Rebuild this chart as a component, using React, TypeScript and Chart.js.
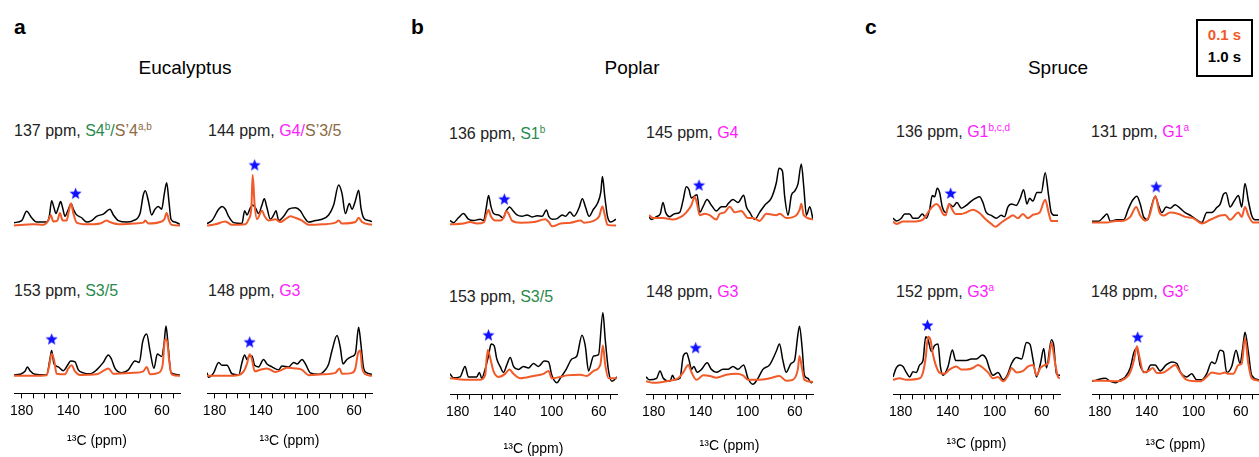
import React, { useEffect, useRef } from "react";
import { Chart, registerables } from "chart.js";
Chart.register(...registerables);

type Pt = [number, number];

// ---------- axis ----------
const X_MIN = 44.5;
const X_MAX = 186.5;
const MINOR_TICKS = [180, 170, 160, 150, 140, 130, 120, 110, 100, 90, 80, 70, 60, 50];
const LABELED_TICKS = [180, 140, 100, 60];
const X_TITLE = "¹³C (ppm)";

// ---------- Eucalyptus (ppm, intensity) ----------
const EUC137_S: Pt[] = [[186.5,3.3],[179.9,5.7],[175.7,16.7],[171.4,9],[167.1,4],[158.6,4],[156.3,10.7],[154.3,29],[152.3,20.7],[150.6,14],[148.6,20.7],[146.6,28],[144.9,20.7],[142.9,10.7],[140,19],[137.7,25.7],[135.7,19],[133.5,13.3],[128.6,9],[124.3,4],[120.1,5.7],[115.8,10.7],[110.1,13.3],[104.4,19],[101.5,12.3],[97.3,5.7],[90.1,4],[84.4,5.7],[78.7,14],[75.9,35.7],[74.2,40.7],[71.6,29],[68.8,12.3],[65.9,19],[63.1,22.3],[60.2,19],[57.9,37.3],[55.9,50],[53.9,27.3],[52.2,7.3],[48.8,4],[44.5,1.3]];
const EUC137_F: Pt[] = [[186.5,0],[170,1.3],[161.4,0.7],[157.1,5.7],[155.1,12.3],[152.9,4.7],[149.4,5.7],[147.2,14.7],[144.9,5.7],[141.5,5.7],[139.5,17.3],[137.7,25.7],[135.7,14],[132.9,3.3],[124.3,1.3],[112.9,2.3],[107.2,5.7],[104.4,4],[95.8,1.3],[84.4,2.3],[75.9,3.3],[74.2,5.7],[71.6,2.3],[61.7,4],[57.9,7.3],[55.9,14.7],[53.9,5.7],[51.6,0.7],[44.5,0]];

const EUC144_S: Pt[] = [[186.5,2.3],[182.2,5.7],[176.5,19],[173.6,22.3],[170.7,19],[167.9,10.7],[163.5,3.3],[156.4,2.3],[154.1,17.3],[152.1,12.3],[149.2,20.7],[147.2,24],[144.9,20.7],[142.1,14],[139.2,24],[137.2,31.3],[134.9,20.7],[132,7.3],[129.1,12.3],[127.1,17.3],[124.8,5.7],[120.5,10.7],[116.2,19],[110.5,20.7],[106.2,17.3],[103.3,10.7],[99,4],[93.3,5.7],[87.5,7.3],[81.8,12.3],[77.5,24],[73.2,47.3],[70.3,37.3],[67.4,14],[64,25.7],[61.7,19],[58.8,29],[56,41.3],[54,20.7],[51.7,9],[47.4,5.7],[44.5,4.7]];
const EUC144_F: Pt[] = [[186.5,0],[179.3,1.3],[170.7,4.7],[165,0.7],[153.5,1.3],[150.6,7.3],[148.3,20.7],[147.2,59],[145.5,24],[143.5,7.3],[139.2,17.3],[136.9,10.7],[133.4,5.7],[127.7,7.3],[123.4,4],[119.1,7.3],[114.8,10.7],[110.5,9],[104.7,5.7],[99,0.7],[87.5,1.3],[76,3.3],[73.2,5.7],[70.3,2.3],[58.8,4],[56,9],[53.1,4],[44.5,0.7]];

const EUC153_S: Pt[] = [[186.5,1],[181.4,1.7],[177.1,5],[175.1,10],[172.8,5.7],[168.6,1.7],[158.6,1],[155.8,18.3],[154.3,28.3],[152.3,13.3],[148.6,10],[144.3,5.7],[140,13.3],[138,16.7],[134.3,15.7],[131.5,6.7],[127.2,3.3],[121.5,2.3],[115.8,6.7],[110.1,15],[105.8,23.3],[103,18.3],[100.1,8.3],[94.4,3.3],[88.7,6.7],[83,16.7],[79.3,15],[76.4,38.3],[73,46.7],[70.2,28.3],[66.8,8.3],[63.9,24.3],[60.2,21.7],[58.2,35],[56.5,55.7],[54.5,31.7],[52.2,3.3],[44.5,1]];
const EUC153_F: Pt[] = [[186.5,0],[170,0],[158.6,0.7],[156.3,11.7],[154.3,24.7],[152.3,18.3],[150,2.3],[142.9,1.7],[140,8.3],[137.2,11.7],[134.3,5],[130.1,1],[115.8,1.7],[108.7,6.7],[105.8,8.3],[101.5,2.3],[84.4,3.3],[75.9,5],[73,10],[70.2,1.7],[63.1,3.3],[59.4,11.7],[57.4,40],[55.9,41],[53.6,15],[51.6,1.7],[44.5,0]];

const EUC148_S: Pt[] = [[186.5,3.3],[185.1,-1.7],[180.8,3.3],[176.5,15],[173.6,11.7],[169.3,11.7],[165,2.3],[159.2,1],[156.4,15],[154.1,23.3],[152.1,18.3],[150.1,22.3],[147.8,22.3],[145.5,11.7],[142.1,10],[137.8,18.3],[134.9,13.3],[130.6,10],[124.8,6.7],[122,11],[116.2,10],[111.9,15],[109,13.3],[104.7,18.3],[101.8,13.3],[97.6,3.3],[90.4,1.7],[84.6,6.7],[81.8,13.3],[78.9,28.3],[74.6,45],[71.8,31.7],[69.5,13.3],[66.1,18.3],[61.7,21.7],[58.8,25],[56,54.3],[54,35],[51.7,8.3],[48.9,3.3],[44.5,1.7]];
const EUC148_F: Pt[] = [[186.5,0],[170.7,0],[159.2,1],[154.9,5],[152.1,13.3],[149.8,24],[147.8,18.3],[145.5,5],[140.6,6.7],[134.9,8.3],[127.7,4.3],[122,6.7],[117.7,9],[110.5,8.3],[104.7,6.7],[99,0.7],[87.5,1.7],[76,3.3],[72.5,8.3],[70.3,2.3],[61.7,3.3],[58.8,8.3],[56.6,25],[54.6,28.3],[53.1,10],[50.2,1.7],[44.5,0]];

// ---------- Poplar ----------
const POP136_S: Pt[] = [[186.5,5.7],[183.6,3.3],[179.3,9],[175,14],[170.7,7.3],[166.4,5.7],[160.6,7.3],[157.8,5.7],[155.5,20.7],[153.5,35],[151.5,22.3],[149.2,14],[144.9,12.3],[141.2,9],[138.3,17.3],[135.5,21.7],[132.6,17.3],[129.2,12.3],[124.9,10.7],[120.6,12.3],[116.3,10],[112,11.3],[107.7,10.7],[104,18],[102,10.7],[99.1,7.3],[94.8,8],[90.5,12.3],[87.6,10.7],[83.9,15.7],[80.5,10.7],[76.1,20.7],[73.3,31.3],[70.4,20.7],[67.5,10.7],[63.8,19],[60.4,25.7],[57.5,39],[56.1,57.3],[54.1,34],[51.8,10.7],[49,4],[44.5,7.3]];
const POP136_F: Pt[] = [[186.5,1.3],[175,2.3],[169.3,4],[163.5,2.3],[157.2,4],[155.5,12.3],[153.5,18],[151.5,10.7],[147.8,5.7],[143.5,5.7],[140.6,9],[138.3,16.7],[136.4,14],[133.5,5.7],[126.3,3.3],[114.9,4],[104.9,7.3],[102,4],[99.1,-1],[91.9,2.3],[83.3,3.3],[74.7,5.7],[71.9,3.3],[63.2,5.7],[58.9,10.7],[56.1,22.3],[54.1,12.3],[51.8,0.7],[44.5,0]];

const POP145_S: Pt[] = [[186.5,3.3],[184.5,0],[180.1,3.3],[176.7,6.7],[174.4,20],[172.1,8.3],[168.6,3.3],[164.3,6.7],[159.9,8.3],[157.1,21.7],[154.2,38.3],[151.9,35],[149.8,25],[146.9,27.7],[144.9,29],[142.6,8.3],[139.7,15],[136.2,23.3],[132.5,16.7],[128.1,10],[123.8,15],[120.1,15],[118.1,18.3],[113.8,23.3],[109.4,20],[104.5,28.3],[102.2,15],[99.3,8.3],[95,0],[90.7,8.3],[86.3,16.7],[80.6,25],[76.2,43.3],[73.9,60],[71,56.7],[69,26.7],[66.1,5],[63.2,28.3],[60.3,33.3],[57.5,41.7],[54.6,65],[52.5,38.3],[50.2,5],[47.3,15],[44.5,0]];
const POP145_F: Pt[] = [[186.5,5],[183,1.7],[174.4,1.7],[165.7,0],[158.5,3.3],[154.2,8.3],[149.8,16.7],[146.9,26.7],[144.9,18.3],[142.6,5],[138.3,6.7],[134,5],[128.1,0],[125.3,6.7],[121,8.3],[116.6,15],[112.3,8.3],[106.6,10],[100.8,1.7],[96.4,1.7],[90.7,-1.7],[84.9,6.7],[76.2,5],[73.3,6.7],[67.6,1.7],[58.9,5],[56,11.7],[54.6,18.3],[52.5,5],[44.5,0]];

const POP153_S: Pt[] = [[186.5,6.7],[183.7,2.3],[178,3.3],[173.7,15],[170.9,3.3],[163.8,3.3],[161.5,8.3],[159.5,1.7],[156.7,11.7],[153.8,26.7],[151.5,40],[149,38.3],[146.7,23.3],[143.9,15],[141,8.3],[138.2,16.7],[135.3,25],[132.5,15],[128.2,11.7],[124,15],[119.8,13.3],[115.5,18.3],[111.3,15],[106.4,21],[102.7,20],[99.9,5],[95.6,-3.3],[92.8,1.7],[87.7,11.7],[82.9,23.3],[78.6,26.7],[74.3,50],[71.5,38.3],[68.7,10],[64.4,26.7],[60.2,28.3],[56.5,75],[54.5,45],[51.7,10],[48.8,-1.7],[44.5,3.3]];
const POP153_F: Pt[] = [[186.5,1.7],[169.5,0],[161,0],[156.7,5],[154.4,33.3],[152.4,25],[149.6,10],[145.3,3.3],[139.6,6.7],[135.9,11.7],[132.5,6.7],[126.8,1.7],[115.5,4.3],[107,6.7],[102.7,10],[99.9,1.7],[92.8,3.3],[87.1,5],[75.7,5.7],[70.1,4.3],[64.4,10],[58.7,16.7],[56.5,38.3],[54.5,16.7],[51.7,1.7],[44.5,1.7]];

const POP148_S: Pt[] = [[186.5,5.7],[183.7,2.3],[177.5,4],[174.6,12.3],[171.8,4],[166.1,0.7],[163.9,7.3],[161.9,2.3],[157.6,4],[154.8,29],[152,32.3],[149.8,24],[147.8,14],[145.8,17.3],[143,10.7],[139.3,14],[134.5,21.3],[130.9,14],[126.7,10.7],[121,14],[116.8,14],[112.5,17.3],[108.3,14],[103.5,19],[99.8,4],[95.6,-2.7],[91.3,4],[87.1,14],[81.4,19],[75.8,34],[73,42.3],[70.1,24],[67.3,10.7],[63.1,20.7],[60.2,24],[57.4,52.3],[56,62.3],[53.7,37.3],[51.8,7.3],[48.9,4],[46.1,-1],[44.5,0.7]];
const POP148_F: Pt[] = [[186.5,0.7],[180.3,-1],[169,0.7],[159.1,4],[154.8,10.7],[150.6,19],[147.8,10.7],[143.6,2.3],[137.9,7.3],[132.3,6.7],[126.7,4.7],[118.2,8],[109.7,9],[104.1,7.3],[99.8,2.3],[89.9,2.3],[81.4,4],[73,6.7],[67.3,1.3],[61.7,2.3],[57.4,14],[56,29],[53.7,14],[51.8,2.3],[44.5,0]];

// ---------- Spruce ----------
const SPR136_S: Pt[] = [[186.5,5],[183.6,1.7],[179.3,5],[176.5,10],[172.2,10],[169.3,5],[165,5],[161.3,10],[157.8,5],[155,15],[152.7,31.7],[150.7,30],[148.4,40],[146.4,35],[144.1,18.3],[141.2,11.7],[137.8,21.7],[134.9,18.3],[131.5,23.3],[127.7,16.7],[123.4,20],[119.1,25],[115.4,28.3],[112,30],[109.1,23.3],[106.3,11.7],[101.9,8.3],[97.6,5],[93.3,8.3],[90.5,6.7],[87.6,18.3],[84.7,21.7],[80.4,20],[77,28.3],[74.1,38.3],[71.2,21.7],[68.9,28.3],[66.1,25],[62.6,35],[58.9,35],[55.5,58.3],[52.6,31.7],[50.3,11.7],[47.4,8.3],[44.5,8.3]];
const SPR136_F: Pt[] = [[186.5,1],[183.6,-1.7],[177.9,1],[169.3,1],[160.7,3.3],[156.4,11.7],[152.7,18.3],[149.2,21.7],[146.4,18.3],[143.5,10],[141.2,8.3],[138.4,21.7],[135.5,15],[132.7,10],[127.7,10],[123.4,11.7],[117.7,15],[112,11],[107.7,5],[101.9,-1.7],[98.2,-5],[93.3,0],[87.6,5],[83.3,8.3],[79,5],[74.7,10],[70.4,5],[66.1,9],[60.3,11.7],[55.5,26.7],[52.6,11.7],[50.3,1.7],[44.5,1.7]];

const SPR131_S: Pt[] = [[186.5,2.7],[180.8,2.7],[176.6,7.7],[173.8,11],[170.9,2.7],[165.3,4.3],[159.6,4.3],[155.4,17.7],[151.7,27.7],[148.3,32],[145.5,22.7],[142.6,7.7],[139.2,4.3],[136.4,17.7],[132.7,32],[129.9,21],[127.1,12.7],[123.4,19.3],[120,17.7],[115.8,22],[111.5,17.7],[107.3,12.7],[102.5,9.3],[97.4,4.3],[93.1,1],[88.9,12.7],[84.6,12.7],[80.4,18.7],[77.5,22.7],[74.7,34.3],[72.5,36],[69.1,19.3],[65.7,26],[62,32.7],[59.2,19.3],[56.4,46.7],[53.5,26],[50.7,9.3],[47.9,4.3],[44.5,4.3]];
const SPR131_F: Pt[] = [[186.5,1],[173.8,1],[168.1,2.7],[159.6,3.3],[154,7.7],[148.9,19.3],[145.5,9.3],[141.3,3.3],[137.6,9.3],[132.7,32],[129,12.7],[125.7,9.3],[120,12.7],[112.9,11],[107.3,7.7],[100.2,6],[93.1,0],[86,4.3],[77.5,9.3],[73.2,10],[69.1,4.3],[62,12.7],[59.2,7.7],[56.4,19.3],[53.5,9.3],[49.3,1],[44.5,1]];

const SPR152_S: Pt[] = [[186.5,3.3],[183.7,13.3],[180.8,16.7],[178,15],[175.2,8.3],[172.3,3.3],[169.5,9],[166.7,8.3],[163.8,16.7],[161,21.7],[158.7,48.3],[156.7,45],[153.9,31.7],[151.1,38.3],[148.2,40],[146.2,15],[144,5],[139.7,15],[136,33.3],[133.2,21.7],[128.4,21.7],[124.1,21.7],[119.9,23.3],[115.6,23.3],[110.5,27.7],[107.1,23.3],[104.3,11.7],[101.5,5],[97.2,8.3],[92.8,0],[89.4,5],[85.7,18.3],[81.5,25],[77.2,23.3],[73,41.7],[70.1,40],[67.3,21.7],[64.5,3.3],[61.1,18.3],[58.3,35],[56,13.3],[51.8,45],[49.8,38.3],[47.5,6.7],[44.5,5]];
const SPR152_F: Pt[] = [[186.5,0],[180.8,1.7],[175.2,0],[163.8,1.7],[161,8.3],[158.7,25],[156.7,48.3],[154.7,45],[152.5,28.3],[150.2,16.7],[146.8,7.7],[142.6,6.7],[138.3,11.7],[132.7,15],[128.4,11.7],[124.1,11.7],[118.5,13.3],[114.2,16.7],[109.9,13.3],[105.7,8.3],[101.4,1.7],[97.2,3.3],[92.8,-1.7],[88.6,5],[85.7,13.3],[81.5,8.3],[75.8,10],[71.6,15],[67.3,16.7],[64.5,5],[61.1,13.3],[57.4,16.7],[54.6,18.3],[51.8,41.7],[49,21.7],[46.2,3.3],[44.5,1.7]];

const SPR148_S: Pt[] = [[186.5,-0.7],[182.3,1],[175.2,2.7],[170.9,-0.7],[166.7,-2.3],[162.5,1],[158.2,4.3],[154,14.3],[150.6,32.7],[148.3,36],[145.5,16.7],[140.4,9.3],[136.5,17.7],[132.8,17.7],[128.6,11],[123.5,17.7],[118.7,21],[114.4,19.3],[111.1,9.3],[106,4.3],[101.7,7.7],[97.5,1],[93.2,1],[89,7.7],[84.7,21],[81.9,19.3],[77.6,34.3],[74.8,32.7],[72,9.3],[67.7,16],[64,34.3],[60.6,19.3],[58.4,36],[56.4,54.3],[53.6,32.7],[50.7,6],[44.5,1]];
const SPR148_F: Pt[] = [[186.5,0],[176.6,0],[165.3,-0.7],[158.2,2.7],[154,9.3],[150.6,24.3],[148.3,38.7],[146.1,26],[142.7,9.3],[138.4,11],[134.8,14.3],[131.4,8.7],[125.7,9.3],[120,14.3],[115.8,17.7],[111.5,9.3],[105.9,1],[94.6,-0.7],[89,4.3],[84.7,9.3],[77.6,7.7],[73.4,9.3],[70.6,7.7],[66.3,7.7],[62,17.7],[59.2,19.3],[56.4,47.7],[53.6,19.3],[50.7,2.7],[44.5,0]];

// ---------- stars (ppm, height) ----------
const STAR_EUC137: Pt = [133.8, 37.3];
const STAR_EUC144: Pt = [145.5, 70.7];
const STAR_EUC153: Pt = [154.3, 41];
const STAR_EUC148: Pt = [149.8, 37.7];
const STAR_POP136: Pt = [140, 30.7];
const STAR_POP145: Pt = [143.2, 40];
const STAR_POP153: Pt = [153.8, 50];
const STAR_POP148: Pt = [144.3, 38];
const STAR_SPR136: Pt = [136.9, 34];
const STAR_SPR131: Pt = [131.9, 42.7];
const STAR_SPR152: Pt = [157.2, 61];
const STAR_SPR148: Pt = [147.7, 48.7];

// ---------- styles ----------
const FONT = '"Liberation Sans", Arial, Helvetica, sans-serif';
const ORANGE = "#f15a29";
const GREEN = "#2a8a4e";
const BROWN = "#8c6a42";
const MAGENTA = "#ff1aff";
const BLUE = "#1010ff";

type Seg = { t: string; c?: string; sup?: boolean };

type PanelDef = {
  key: string;
  left: number;
  width: number;
  base: number;
  bottom: boolean;
  fast: Pt[];
  slow: Pt[];
  star: Pt;
  title: Seg[];
  tx: number;
  ty: number;
  titlePad?: number;
};

const AXIS_Y = 398;
const ABOVE = 86;
const PAD = 16;
const TICK_FONT = 14;

const PANELS: PanelDef[] = [
  { key: "aTL", left: 14, width: 166, base: 230.7, bottom: false, fast: EUC137_F, slow: EUC137_S, star: STAR_EUC137, tx: 14, ty: 131,
    title: [{ t: "137 ppm, " }, { t: "S4", c: GREEN }, { t: "b", c: GREEN, sup: true }, { t: "/", c: GREEN }, { t: "S’4", c: BROWN }, { t: "a,b", c: BROWN, sup: true }] },
  { key: "aTR", left: 207, width: 165, base: 230.7, bottom: false, fast: EUC144_F, slow: EUC144_S, star: STAR_EUC144, tx: 208, ty: 131,
    title: [{ t: "144 ppm, " }, { t: "G4/", c: MAGENTA }, { t: "S’3/5", c: BROWN }] },
  { key: "aBL", left: 14, width: 166, base: 378.3, bottom: true, fast: EUC153_F, slow: EUC153_S, star: STAR_EUC153, tx: 14, ty: 291, titlePad: 10,
    title: [{ t: "153 ppm, " }, { t: "S3/5", c: GREEN }] },
  { key: "aBR", left: 207, width: 165, base: 378.3, bottom: true, fast: EUC148_F, slow: EUC148_S, star: STAR_EUC148, tx: 208, ty: 291, titlePad: 10,
    title: [{ t: "148 ppm, " }, { t: "G3", c: MAGENTA }] },

  { key: "bTL", left: 450, width: 166, base: 230.7, bottom: false, fast: POP136_F, slow: POP136_S, star: STAR_POP136, tx: 449, ty: 134,
    title: [{ t: "136 ppm, " }, { t: "S1", c: GREEN }, { t: "b", c: GREEN, sup: true }] },
  { key: "bTR", left: 649, width: 164, base: 225, bottom: false, fast: POP145_F, slow: POP145_S, star: STAR_POP145, tx: 646, ty: 133,
    title: [{ t: "145 ppm, " }, { t: "G4", c: MAGENTA }] },
  { key: "bBL", left: 450, width: 167, base: 381.7, bottom: true, fast: POP153_F, slow: POP153_S, star: STAR_POP153, tx: 449, ty: 297, titlePad: 17,
    title: [{ t: "153 ppm, " }, { t: "S3/5", c: GREEN }] },
  { key: "bBR", left: 646, width: 167, base: 384, bottom: true, fast: POP148_F, slow: POP148_S, star: STAR_POP148, tx: 646, ty: 292, titlePad: 14,
    title: [{ t: "148 ppm, " }, { t: "G3", c: MAGENTA }] },

  { key: "cTL", left: 893, width: 165, base: 228.3, bottom: false, fast: SPR136_F, slow: SPR136_S, star: STAR_SPR136, tx: 896, ty: 132,
    title: [{ t: "136 ppm, " }, { t: "G1", c: MAGENTA }, { t: "b,c,d", c: MAGENTA, sup: true }] },
  { key: "cTR", left: 1092, width: 167, base: 229.3, bottom: false, fast: SPR131_F, slow: SPR131_S, star: STAR_SPR131, tx: 1091, ty: 132,
    title: [{ t: "131 ppm, " }, { t: "G1", c: MAGENTA }, { t: "a", c: MAGENTA, sup: true }] },
  { key: "cBL", left: 893, width: 167, base: 381.7, bottom: true, fast: SPR152_F, slow: SPR152_S, star: STAR_SPR152, tx: 896, ty: 292, titlePad: 12,
    title: [{ t: "152 ppm, " }, { t: "G3", c: MAGENTA }, { t: "a", c: MAGENTA, sup: true }] },
  { key: "cBR", left: 1092, width: 167, base: 382.7, bottom: true, fast: SPR148_F, slow: SPR148_S, star: STAR_SPR148, tx: 1091, ty: 292, titlePad: 13,
    title: [{ t: "148 ppm, " }, { t: "G3", c: MAGENTA }, { t: "c", c: MAGENTA, sup: true }] },
];

function makeStar(): HTMLCanvasElement {
  const c = document.createElement("canvas");
  c.width = 13;
  c.height = 13;
  const g = c.getContext("2d")!;
  g.fillStyle = BLUE;
  g.beginPath();
  for (let i = 0; i < 10; i++) {
    const r = i % 2 === 0 ? 6.3 : 2.7;
    const a = -Math.PI / 2 + (i * Math.PI) / 5;
    const px = 6.5 + r * Math.cos(a);
    const py = 6.8 + r * Math.sin(a);
    if (i === 0) g.moveTo(px, py);
    else g.lineTo(px, py);
  }
  g.closePath();
  g.fill();
  return c;
}

function Panel({ p }: { p: PanelDef }) {
  const ref = useRef<HTMLCanvasElement>(null);
  const below = p.bottom ? AXIS_Y - p.base : 10;
  const tPad = p.titlePad ?? 10;
  const axisH = p.bottom ? 5 + 4 + TICK_FONT * 1.2 * 2 + tPad : 0;
  const cw = p.width + 2 * PAD;
  const ch = Math.round(ABOVE + below + axisH);

  useEffect(() => {
    if (!ref.current) return;
    const star = makeStar();
    const chart = new Chart(ref.current, {
      type: "line",
      data: {
        datasets: [
          {
            data: [{ x: p.star[0], y: p.star[1] }],
            showLine: false,
            pointStyle: star as any,
            pointRadius: 6,
            order: 0,
          } as any,
          {
            data: p.fast.map(([x, y]) => ({ x, y })),
            borderColor: ORANGE,
            borderWidth: 2,
            pointRadius: 0,
            cubicInterpolationMode: "monotone",
            order: 1,
          },
          {
            data: p.slow.map(([x, y]) => ({ x, y })),
            borderColor: "#000000",
            borderWidth: 1.5,
            pointRadius: 0,
            cubicInterpolationMode: "monotone",
            order: 2,
          },
        ],
      },
      options: {
        animation: false,
        responsive: false,
        maintainAspectRatio: false,
        events: [],
        layout: { padding: { left: PAD, right: PAD, top: 0, bottom: 0 } },
        plugins: { legend: { display: false }, tooltip: { enabled: false } },
        scales: {
          x: {
            type: "linear",
            min: X_MIN,
            max: X_MAX,
            reverse: true,
            display: p.bottom,
            afterBuildTicks: (s: any) => {
              s.ticks = MINOR_TICKS.map((v) => ({ value: v }));
            },
            ticks: {
              autoSkip: false,
              maxRotation: 0,
              minRotation: 0,
              padding: 4,
              color: "#000",
              font: { family: FONT, size: TICK_FONT },
              callback: (v: any) => (LABELED_TICKS.includes(Number(v)) ? String(v) : ""),
            },
            grid: {
              display: true,
              drawOnChartArea: false,
              drawTicks: true,
              tickLength: 5,
              color: "#000",
              tickColor: "#000",
              lineWidth: 1,
            },
            border: { display: true, color: "#000", width: 1 },
            title: {
              display: true,
              text: X_TITLE,
              color: "#000",
              font: { family: FONT, size: TICK_FONT },
              padding: { top: tPad, bottom: 0 },
            },
          },
          y: { display: false, min: -below, max: ABOVE },
        },
      },
    });
    return () => chart.destroy();
  }, []);

  return (
    <canvas
      ref={ref}
      width={cw}
      height={ch}
      style={{ position: "absolute", left: p.left - PAD, top: p.base - ABOVE, width: cw, height: ch }}
    />
  );
}

function Title({ p }: { p: PanelDef }) {
  return (
    <div
      style={{
        position: "absolute",
        left: p.tx,
        top: p.ty - 10,
        fontFamily: FONT,
        fontSize: 16,
        lineHeight: "20px",
        color: "#222",
        whiteSpace: "nowrap",
      }}
    >
      {p.title.map((s, i) =>
        s.sup ? (
          <span key={i} style={{ color: s.c, fontSize: 10, verticalAlign: "6px", lineHeight: 0 }}>
            {s.t}
          </span>
        ) : (
          <span key={i} style={{ color: s.c }}>
            {s.t}
          </span>
        )
      )}
    </div>
  );
}

const GROUPS = [
  { letter: "a", lx: 14, name: "Eucalyptus", cx: 185 },
  { letter: "b", lx: 411, name: "Poplar", cx: 632 },
  { letter: "c", lx: 865, name: "Spruce", cx: 1058 },
];

export default function App() {
  return (
    <div style={{ position: "absolute", left: 0, top: 0, width: 1259, height: 457, overflow: "hidden", background: "#fff", fontFamily: FONT }}>
      {GROUPS.map((g) => (
        <React.Fragment key={g.letter}>
          <div style={{ position: "absolute", left: g.lx, top: 15, fontSize: 21, fontWeight: "bold", lineHeight: "24px", color: "#000" }}>{g.letter}</div>
          <div style={{ position: "absolute", left: g.cx - 100, width: 200, textAlign: "center", top: 57, fontSize: 19, lineHeight: "22px", color: "#000" }}>{g.name}</div>
        </React.Fragment>
      ))}
      <div style={{ position: "absolute", left: 1196, top: 19, width: 53, height: 51, border: "2px solid #000", textAlign: "center", fontWeight: "bold", fontSize: 15, lineHeight: "22px", paddingTop: 3 }}>
        <div style={{ color: ORANGE }}>0.1 s</div>
        <div style={{ color: "#000" }}>1.0 s</div>
      </div>
      {PANELS.map((p) => (
        <Title key={"t" + p.key} p={p} />
      ))}
      {PANELS.map((p) => (
        <Panel key={p.key} p={p} />
      ))}
    </div>
  );
}
